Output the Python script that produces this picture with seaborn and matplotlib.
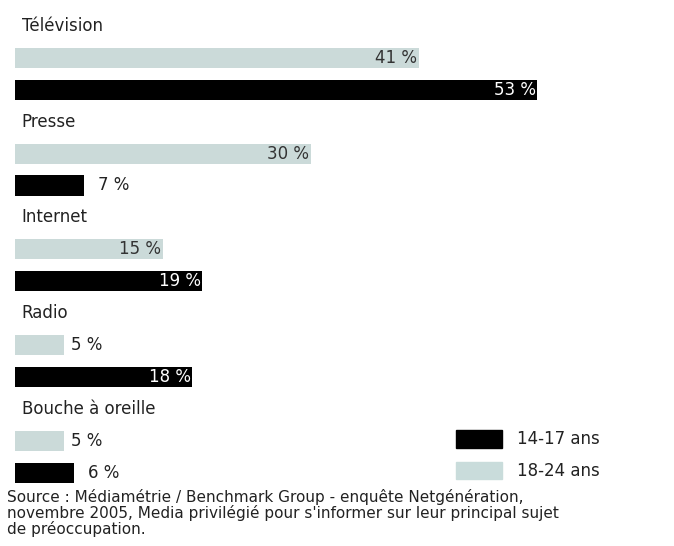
import pandas as pd
import matplotlib
matplotlib.use("Agg")
import matplotlib.pyplot as plt
import matplotlib.patches as mpatches
import seaborn as sns

# Data
media = ["Télévision", "Presse", "Internet", "Radio", "Bouche à oreille"]
ages_18_24 = [41, 30, 15, 5, 5]
ages_14_17 = [53, 7, 19, 18, 6]
groups = ["18-24 ans", "14-17 ans"]
source_lines = [
    "Source : Médiamétrie / Benchmark Group - enquête Netgénération,",
    "novembre 2005, Media privilégié pour s'informer sur leur principal sujet",
    "de préoccupation.",
]

light = "#c9dcdb"
dark = "#000000"
txt = "#222222"
fs = 12

# long table: one slot for the label, then one per age group
rows = []
order = []
for m, a, b in zip(media, ages_18_24, ages_14_17):
    order += [m + "|label", m + "|" + groups[0], m + "|" + groups[1]]
    rows.append({"slot": m + "|" + groups[0], "group": groups[0], "value": a})
    rows.append({"slot": m + "|" + groups[1], "group": groups[1], "value": b})
df = pd.DataFrame(rows)

sns.set_style("white")
plt.rcParams["font.family"] = ["DejaVu Sans"]

W, H = 674, 546
fig = plt.figure(figsize=(W / 100, H / 100), dpi=100)
left_px = 15
px_per_unit = 9.85
ax = fig.add_axes([left_px / W, 0, (W - left_px) / W, 1])

sns.barplot(data=df, x="value", y="slot", hue="group", order=order,
            palette={groups[0]: light, groups[1]: dark}, dodge=False,
            width=0.63, linewidth=0, orient="h", legend=False, ax=ax)

pitch = 31.9
top_px = 26
ax.set_xlim(0, (W - left_px) / px_per_unit)
ax.set_ylim((H - top_px) / pitch, -top_px / pitch)
ax.axis("off")

def px(p):
    return p / px_per_unit

for i, m in enumerate(media):
    ax.text(px(6.5), 3 * i, m, ha="left", va="center", fontsize=fs, color=txt)
    for k, (v, col) in enumerate([(ages_18_24[i], light), (ages_14_17[i], dark)]):
        y = 3 * i + 1 + k
        lab = f"{v} %"
        if v >= 15:
            c = "white" if col == dark else "#333333"
            ax.text(v - px(1.5), y, lab, ha="right", va="center", fontsize=fs, color=c)
        else:
            gap = 7 if col == light else 14
            ax.text(v + px(gap), y, lab, ha="left", va="center", fontsize=fs, color=txt)

handles = [mpatches.Patch(color=dark), mpatches.Patch(color=light)]
fig.legend(handles, [groups[1], groups[0]], loc="upper left",
           bbox_to_anchor=(456 / W, 1 - 430 / H), frameon=False, fontsize=fs,
           handlelength=2.75, handleheight=1.25, handletextpad=0.9,
           labelspacing=0.8, borderpad=0, borderaxespad=0, labelcolor=txt)

for j, line in enumerate(source_lines):
    fig.text(7 / W, 1 - (497 + 16 * j) / H, line, ha="left", va="center",
             fontsize=11, color=txt)

fig.savefig("out.png", dpi=100)
